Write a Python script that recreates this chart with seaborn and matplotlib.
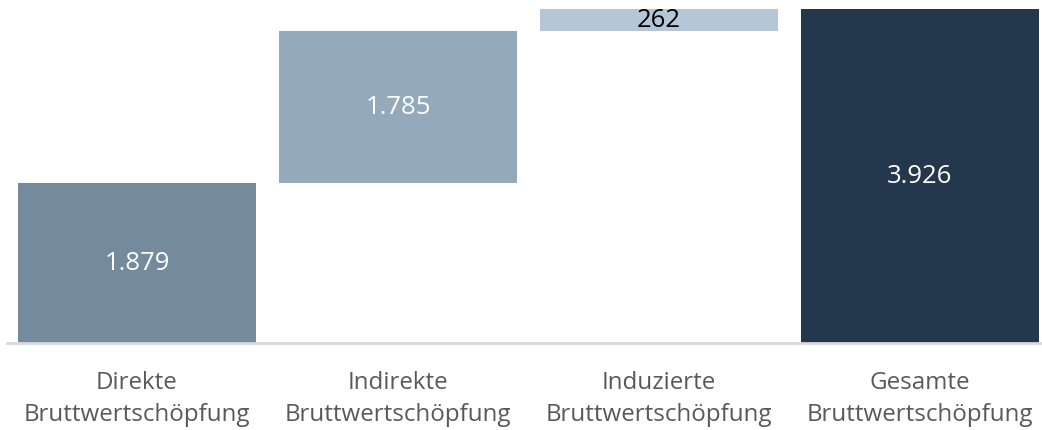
import matplotlib
matplotlib.use("Agg")
import matplotlib.pyplot as plt
import pandas as pd
import seaborn as sns

# Werte (Mio. Euro) aus dem Diagramm
kategorien = ["Direkte\nBruttwertschöpfung", "Indirekte\nBruttwertschöpfung",
              "Induzierte\nBruttwertschöpfung", "Gesamte\nBruttwertschöpfung"]
werte = [1879, 1785, 262, 3926]
ist_summe = [False, False, False, True]
farben = ["#748b9e", "#95a9bd", "#b5c7d6", "#23374d"]
textfarben = ["white", "white", "black", "white"]

# Startpunkte fuer den Wasserfall
basis = []
laufend = 0
for w, s in zip(werte, ist_summe):
    if s:
        basis.append(0)
    else:
        basis.append(laufend)
        laufend += w
oben = [b + w for b, w in zip(basis, werte)]

df = pd.DataFrame({"kategorie": kategorien, "wert": werte, "basis": basis, "oben": oben})

sns.set_theme(style="white")
plt.rcParams["font.family"] = ["Open Sans", "DejaVu Sans"]

fig = plt.figure(figsize=(10.42, 4.30), dpi=100)
ax = fig.add_axes([0, 87 / 430, 1, 343 / 430])

sns.barplot(data=df, x="kategorie", y="wert", hue="kategorie", palette=farben,
            legend=False, width=238 / 261, ax=ax, saturation=1)

# Balken auf ihre Wasserfall-Position verschieben
for patch, b, w in zip(ax.patches, basis, werte):
    patch.set_y(b)
    patch.set_height(w)
    patch.set_linewidth(0)

for i, (b, w, tc) in enumerate(zip(basis, werte, textfarben)):
    label = f"{w:,}".replace(",", ".")
    ax.text(i, b + w / 2, label, ha="center", va="center", color=tc, fontsize=18.5)

ax.set_xlim(-137 / 261, (1042 - 137) / 261)
ax.set_ylim(0, 4032)
ax.set_xlabel("")
ax.set_ylabel("")
ax.set_yticks([])
for side in ["top", "right", "left"]:
    ax.spines[side].set_visible(False)
ax.spines["bottom"].set_color("#d9d9d9")
ax.spines["bottom"].set_linewidth(2)
ax.spines["bottom"].set_bounds(-0.5, (1042 - 137) / 261)
ax.tick_params(axis="x", length=0, pad=20, labelsize=17.4, labelcolor="#595959")
for t in ax.get_xticklabels():
    t.set_linespacing(1.48)

fig.savefig("out.png", dpi=100)
